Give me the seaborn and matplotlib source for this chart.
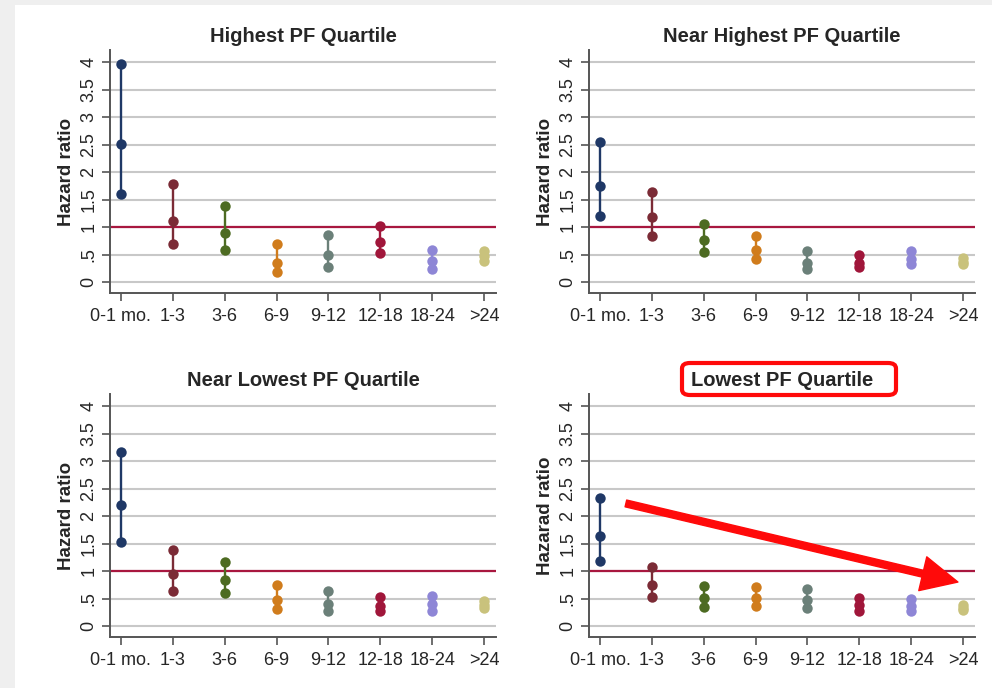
import matplotlib
matplotlib.use("Agg")
import matplotlib.pyplot as plt
import pandas as pd
import seaborn as sns
from matplotlib.patches import FancyArrowPatch, FancyBboxPatch, Rectangle

periods = ["0-1 mo.", "1-3", "3-6", "6-9", "9-12", "12-18", "18-24", ">24"]
colors = ["#1f3866", "#7b2b36", "#4d6b22", "#d07c1c", "#6b8079", "#a0163a", "#8e86d6", "#c9c27c"]

# lower bound, estimate, upper bound per period
highest_lo = [1.60, 0.70, 0.58, 0.19, 0.27, 0.52, 0.24, 0.38]
highest_mid = [2.51, 1.11, 0.90, 0.35, 0.50, 0.72, 0.38, 0.47]
highest_hi = [3.96, 1.79, 1.38, 0.70, 0.85, 1.01, 0.58, 0.57]

near_highest_lo = [1.20, 0.84, 0.55, 0.41, 0.23, 0.27, 0.32, 0.32]
near_highest_mid = [1.75, 1.18, 0.76, 0.58, 0.35, 0.35, 0.41, 0.36]
near_highest_hi = [2.55, 1.63, 1.05, 0.84, 0.57, 0.50, 0.57, 0.44]

near_lowest_lo = [1.53, 0.64, 0.60, 0.31, 0.27, 0.27, 0.28, 0.33]
near_lowest_mid = [2.20, 0.94, 0.83, 0.47, 0.40, 0.37, 0.40, 0.39]
near_lowest_hi = [3.17, 1.39, 1.16, 0.75, 0.64, 0.53, 0.55, 0.46]

lowest_lo = [1.18, 0.53, 0.34, 0.36, 0.33, 0.28, 0.27, 0.30]
lowest_mid = [1.64, 0.74, 0.51, 0.51, 0.47, 0.39, 0.37, 0.33]
lowest_hi = [2.33, 1.07, 0.73, 0.71, 0.67, 0.51, 0.49, 0.39]

titles = ["Highest PF Quartile", "Near Highest PF Quartile", "Near Lowest PF Quartile", "Lowest PF Quartile"]
ylabels = ["Hazard ratio", "Hazard ratio", "Hazard ratio", "Hazarad ratio"]
panels = [
    (highest_lo, highest_mid, highest_hi),
    (near_highest_lo, near_highest_mid, near_highest_hi),
    (near_lowest_lo, near_lowest_mid, near_lowest_hi),
    (lowest_lo, lowest_mid, lowest_hi),
]
yticks = [0, 0.5, 1, 1.5, 2, 2.5, 3, 3.5, 4]
yticklabels = ["0", ".5", "1", "1.5", "2", "2.5", "3", "3.5", "4"]

sns.set_theme(style="white")
plt.rcParams["font.family"] = ["Liberation Sans", "DejaVu Sans"]

fig = plt.figure(figsize=(9.92, 6.88), dpi=100)
fig.patch.set_facecolor("white")
# grey page margin of the screenshot
fig.patches.append(Rectangle((0, 0), 15 / 992, 1, transform=fig.transFigure, fc="#efefef", ec="none", zorder=0))
fig.patches.append(Rectangle((0, 1 - 5 / 688), 1, 5 / 688, transform=fig.transFigure, fc="#efefef", ec="none", zorder=0))

palette = dict(zip(periods, colors))
boxes = [(0.1109, 0.5741), (0.5938, 0.5741), (0.1109, 0.0741), (0.5938, 0.0741)]
w, h = 0.3891, 0.3532

axes = []
for (left, bottom), (lo, mid, hi), title, ylab in zip(boxes, panels, titles, ylabels):
    ax = fig.add_axes([left, bottom, w, h])
    rows = []
    for p, a, b, c in zip(periods, lo, mid, hi):
        for v in (a, b, c):
            rows.append({"period": p, "hr": v})
    df = pd.DataFrame(rows)

    ax.axhline(1, color="#a8173f", lw=1.6, zorder=1.5)
    sns.lineplot(data=df, x="period", y="hr", hue="period", palette=palette,
                 estimator=None, marker="o", markersize=7.5, markeredgewidth=0,
                 linewidth=1.7, legend=False, ax=ax, zorder=3)

    ax.set_xlim(-0.21, 7.23)
    ax.set_ylim(-0.2, 4.22)
    ax.set_yticks(yticks)
    ax.set_yticklabels(yticklabels, rotation=90, va="center", fontsize=13)
    ax.tick_params(axis="x", labelsize=13, length=6, width=1.2, color="#555555", pad=5, direction="out", bottom=True)
    ax.tick_params(axis="y", length=6, width=1.2, color="#555555", pad=3, direction="out", left=True)
    ax.yaxis.grid(True, color="#c8c8c8", lw=1.5, zorder=0)
    ax.set_axisbelow(True)
    for side in ["top", "right"]:
        ax.spines[side].set_visible(False)
    for side in ["left", "bottom"]:
        ax.spines[side].set_color("#555555")
        ax.spines[side].set_linewidth(1.4)
    ax.set_xlabel("")
    ax.set_ylabel(ylab, fontsize=13.5, fontweight="bold", labelpad=4)
    ax.set_title(title, fontsize=14.5, fontweight="bold", pad=6)
    axes.append(ax)

# red highlight box around the last title
fig.patches.append(FancyBboxPatch((682 / 992, 1 - 395 / 688), 214 / 992, 32 / 688,
                                  boxstyle="round,pad=0,rounding_size=0.008",
                                  transform=fig.transFigure, fc="none", ec="#ff0a0a", lw=3, zorder=5))

# red trend arrow on the last panel
arrow = FancyArrowPatch((0.5, 2.23), (6.9, 0.8), transform=axes[3].transData,
                        arrowstyle="simple,head_length=26,head_width=25,tail_width=5",
                        mutation_scale=1, shrinkA=0, shrinkB=0, color="#ff0a0a", zorder=6, clip_on=False)
axes[3].add_patch(arrow)

fig.savefig("out.png", dpi=100)
